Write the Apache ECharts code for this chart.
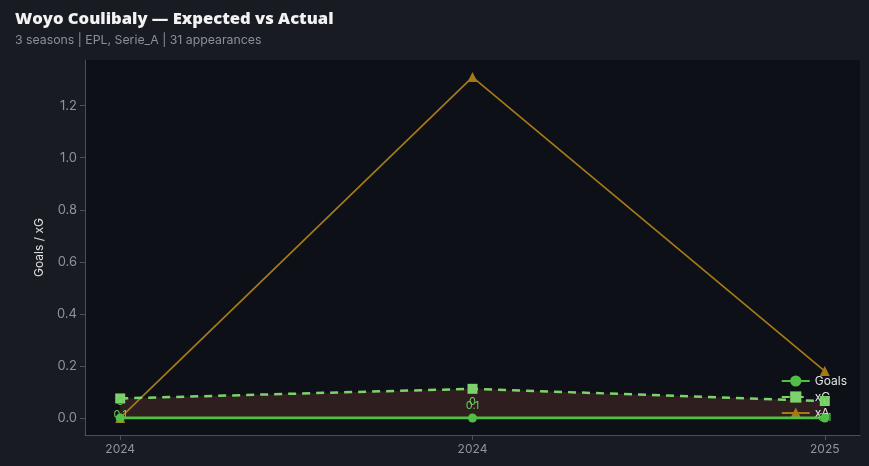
<!DOCTYPE html>
<html><head><meta charset="utf-8">
<script src="https://cdn.jsdelivr.net/npm/echarts@6/dist/echarts.min.js"></script>
<style>html,body{margin:0;padding:0;background:#181b22;}#c{width:869px;height:466px;}</style>
</head><body><div id="c"></div>
<script>
const seasons = ['2024', '2024', '2025'];
const goals = [0, 0, 0];
const xg = [0.075, 0.112, 0.065];
const xa = [0, 1.31, 0.18];
const yTicks = [0, 0.2, 0.4, 0.6, 0.8, 1.0, 1.2];
const xTicks = [0, 1, 2];

const chart = echarts.init(document.getElementById('c'));
const pair = arr => arr.map((v, i) => [i, v]);
const axisCol = '#4a4f5a';
const tickTxt = '#8e939d';
chart.setOption({
  backgroundColor: '#181b22',
  animation: false,
  title: [
    {text: 'Woyo Coulibaly — Expected vs Actual', left: 10, top: 6,
     textStyle: {color: '#f2f2f2', fontSize: 16.6, fontWeight: 800, fontFamily: 'Open Sans'}},
    {text: '3 seasons | EPL, Serie_A | 31 appearances', left: 10, top: 29,
     textStyle: {color: '#8a8f99', fontSize: 12.3, fontWeight: 'normal', fontFamily: 'Inter'}}
  ],
  grid: {left: 85, right: 9, top: 60, bottom: 31, show: true, backgroundColor: '#0d1016', borderWidth: 0},
  legend: {
    orient: 'vertical', right: 17, top: 370, itemGap: 4, itemWidth: 28, itemHeight: 14,
    textStyle: {color: '#e6e6e6', fontSize: 12, fontFamily: 'Inter'},
    data: ['Goals', 'xG', 'xA']
  },
  xAxis: {
    type: 'value', min: -0.1, max: 2.1,
    splitLine: {show: false},
    axisLine: {show: true, onZero: false, lineStyle: {color: axisCol}},
    axisTick: {show: true, customValues: xTicks, length: 5, lineStyle: {color: axisCol}},
    axisLabel: {customValues: xTicks, color: tickTxt, fontSize: 12, fontFamily: 'Inter',
      formatter: v => seasons[Math.round(v)], margin: 8}
  },
  yAxis: {
    type: 'value', min: -0.0655, max: 1.3755,
    name: 'Goals / xG', nameLocation: 'middle', nameGap: 40,
    nameTextStyle: {color: '#e0e0e0', fontSize: 12, fontFamily: 'Inter'},
    splitLine: {show: false},
    axisLine: {show: true, onZero: false, lineStyle: {color: axisCol}},
    axisTick: {show: true, customValues: yTicks, length: 5, lineStyle: {color: axisCol}},
    axisLabel: {customValues: yTicks, color: tickTxt, fontSize: 13, fontFamily: 'Inter',
      formatter: v => v.toFixed(1), margin: 8}
  },
  series: [
    {name: 'gapfill', type: 'custom', silent: true, z: 1,
     data: [0],
     renderItem: (params, api) => {
       const top = xg.map((v, i) => api.coord([i, v]));
       const bot = goals.map((v, i) => api.coord([i, v])).reverse();
       return {type: 'polygon', shape: {points: top.concat(bot)},
               style: {fill: '#2e1e1f'}};
     }},
    {name: 'xA', type: 'line', data: pair(xa), symbol: 'triangle', symbolSize: 10,
     itemStyle: {color: '#a47a17'}, lineStyle: {color: '#a47a17', width: 1.7}, z: 3},
    {name: 'xG', type: 'line', data: pair(xg), symbol: 'rect', symbolSize: 10,
     itemStyle: {color: '#7dd36b'}, lineStyle: {color: '#7dd36b', width: 2.5, type: [8, 6]},
     label: {show: true, position: 'bottom', distance: 6, color: '#6cc95d', fontSize: 11,
       fontFamily: 'Inter', formatter: p => p.value[1].toFixed(1)}, z: 4},
    {name: 'Goals', type: 'line', data: pair(goals), symbol: 'circle', symbolSize: 9,
     itemStyle: {color: '#4fbf45'}, lineStyle: {color: '#4fbf45', width: 2.8},
     label: {show: true, position: 'top', distance: 6, color: '#6cc95d', fontSize: 11,
       fontFamily: 'Inter', formatter: p => String(p.value[1])}, z: 5}
  ]
});
</script></body></html>
